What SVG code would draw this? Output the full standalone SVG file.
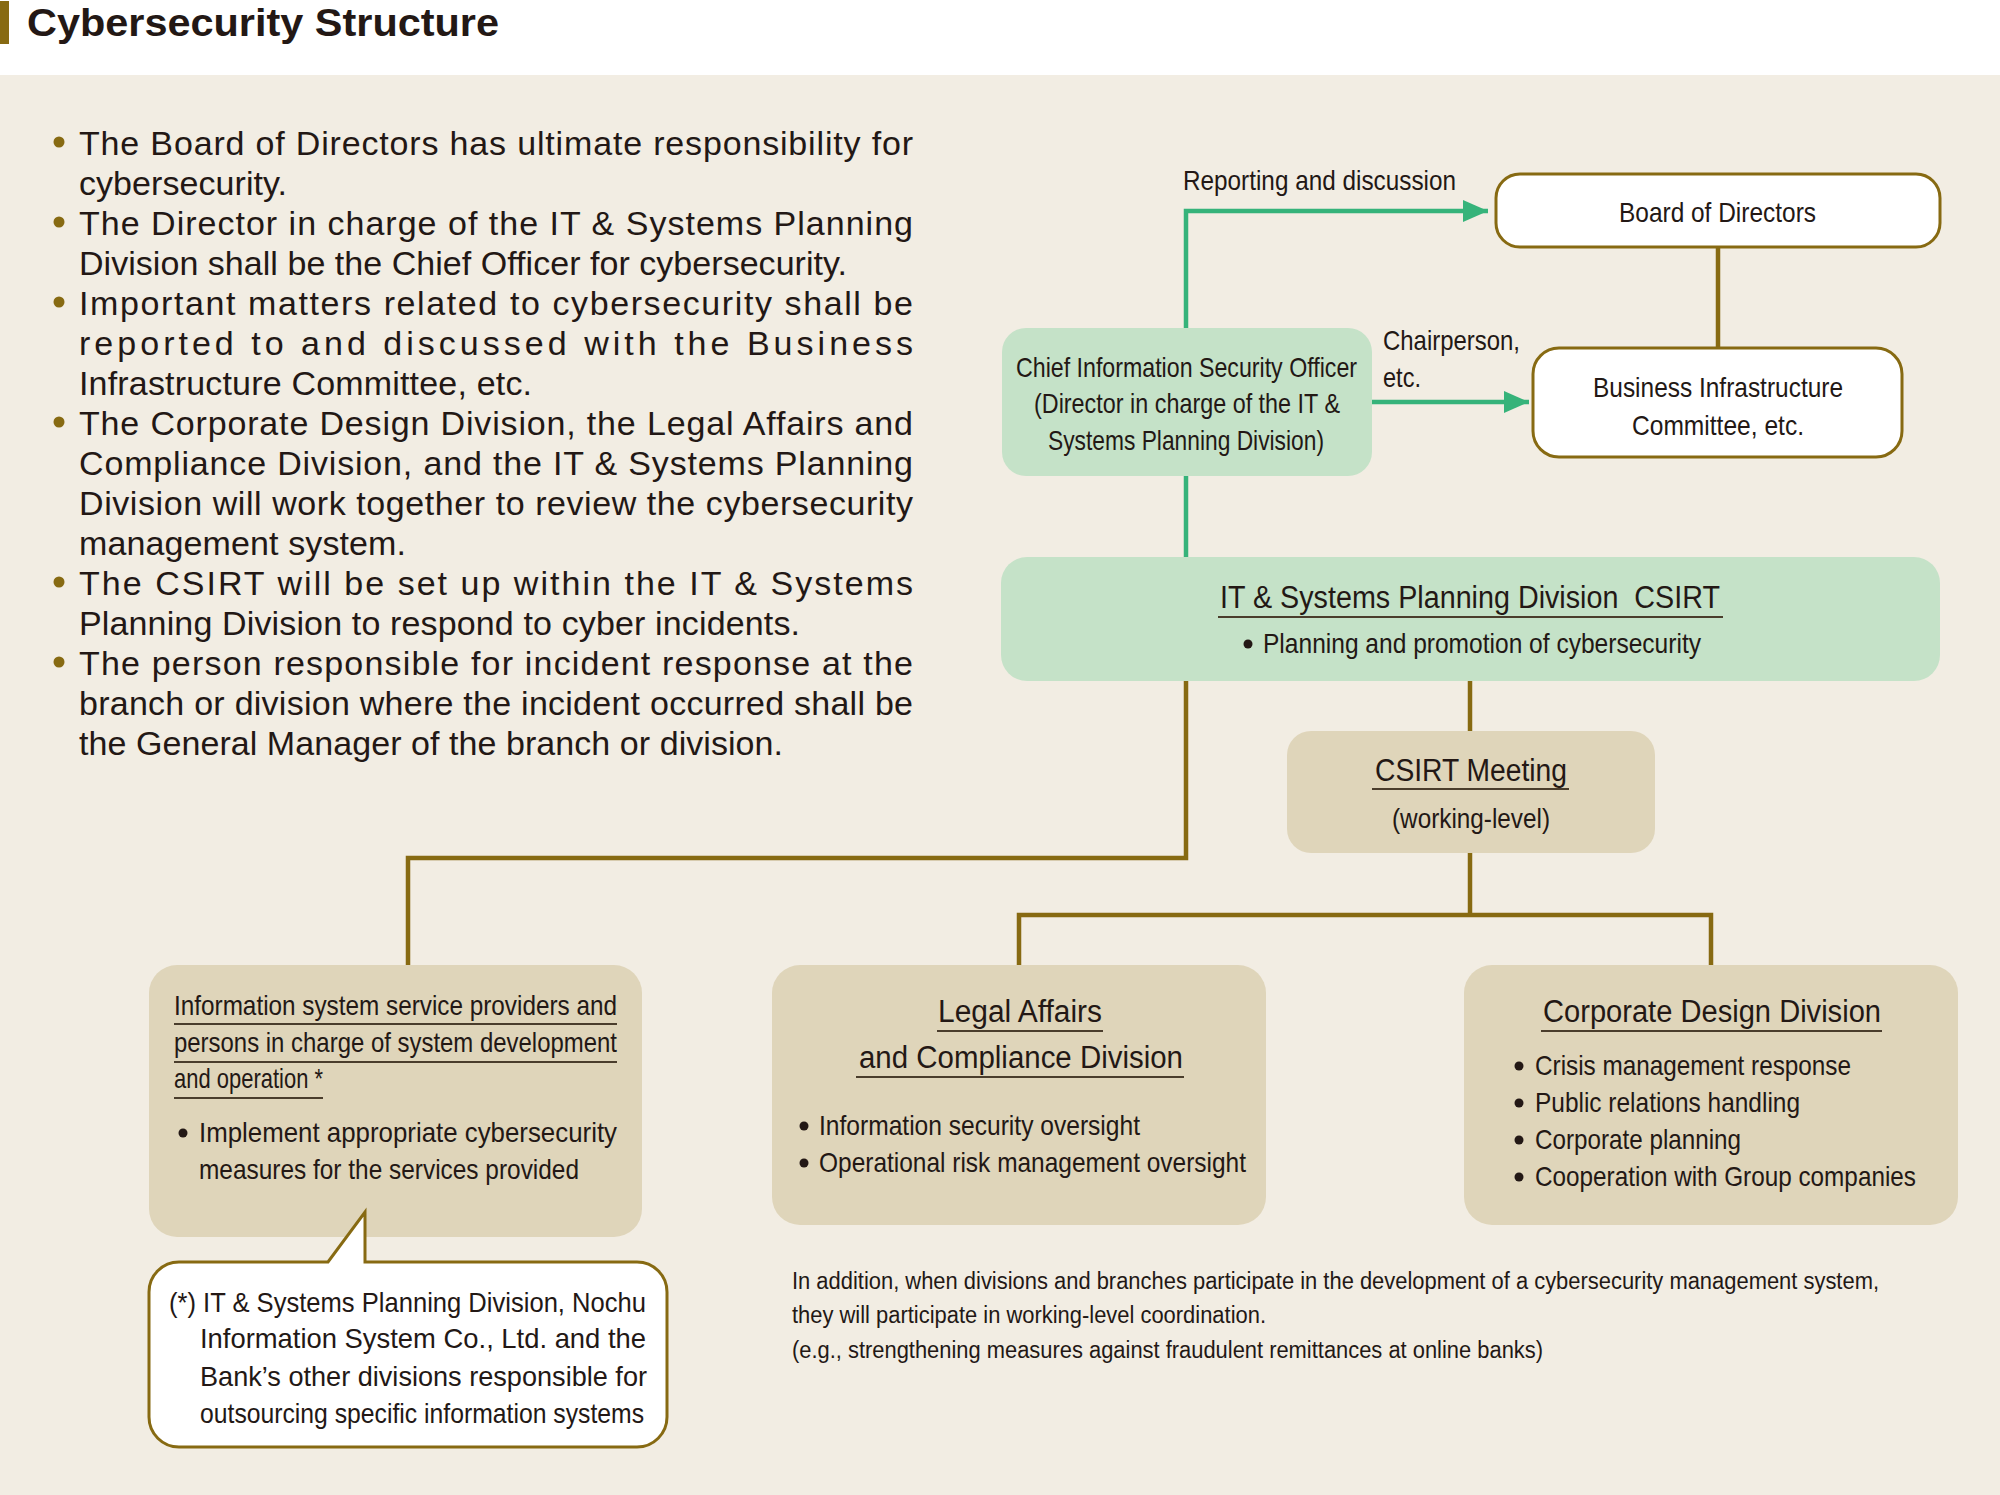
<svg xmlns="http://www.w3.org/2000/svg" width="2000" height="1495" viewBox="0 0 2000 1495">
<defs>
<marker id="gArrow" markerUnits="userSpaceOnUse" markerWidth="25" markerHeight="22" refX="25" refY="11" orient="auto">
<path d="M0,0 L25,11 L0,22 Z" fill="#36B37A"/>
</marker>
<style>
.t{font-family:"Liberation Sans",Arial,sans-serif;fill:#231815}
.body{font-size:34px}
.n{font-size:28px}
.h{font-size:31px}
.s{font-size:23px}
.bul{fill:#876A12}
.dot{fill:#231815}
.ul{stroke:#4a3d2c;stroke-width:2}
.olive{fill:none;stroke:#876A12;stroke-width:4.5}
.green{fill:none;stroke:#36B37A;stroke-width:4.5}
.white{fill:#ffffff;stroke:#876A12;stroke-width:3}
.gfill{fill:#C5E2C8}
.tfill{fill:#DFD5BA}
</style>
</defs>
<rect x="0" y="0" width="2000" height="1495" fill="#ffffff"/>
<rect x="0" y="75" width="2000" height="1420" fill="#F2EDE3"/>
<g id="title">
<rect x="0" y="1" width="9" height="43" fill="#876A12"/>
<text class="t" x="27" y="36" font-size="39" font-weight="bold" textLength="472" lengthAdjust="spacingAndGlyphs">Cybersecurity Structure</text>
</g>
<g id="bullets">
<circle class="bul" cx="59" cy="142" r="5.5"/>
<circle class="bul" cx="59" cy="222" r="5.5"/>
<circle class="bul" cx="59" cy="302" r="5.5"/>
<circle class="bul" cx="59" cy="422" r="5.5"/>
<circle class="bul" cx="59" cy="582" r="5.5"/>
<circle class="bul" cx="59" cy="662" r="5.5"/>
<text class="t body" x="79" y="155" textLength="834" lengthAdjust="spacing">The Board of Directors has ultimate responsibility for</text>
<text class="t body" x="79" y="195" textLength="208" lengthAdjust="spacing">cybersecurity.</text>
<text class="t body" x="79" y="235" textLength="834" lengthAdjust="spacing">The Director in charge of the IT &amp; Systems Planning</text>
<text class="t body" x="79" y="275" textLength="768" lengthAdjust="spacing">Division shall be the Chief Officer for cybersecurity.</text>
<text class="t body" x="79" y="315" textLength="834" lengthAdjust="spacing">Important matters related to cybersecurity shall be</text>
<text class="t body" x="79" y="355" textLength="834" lengthAdjust="spacing">reported to and discussed with the Business</text>
<text class="t body" x="79" y="395" textLength="453" lengthAdjust="spacing">Infrastructure Committee, etc.</text>
<text class="t body" x="79" y="435" textLength="834" lengthAdjust="spacing">The Corporate Design Division, the Legal Affairs and</text>
<text class="t body" x="79" y="475" textLength="834" lengthAdjust="spacing">Compliance Division, and the IT &amp; Systems Planning</text>
<text class="t body" x="79" y="515" textLength="834" lengthAdjust="spacing">Division will work together to review the cybersecurity</text>
<text class="t body" x="79" y="555" textLength="327" lengthAdjust="spacing">management system.</text>
<text class="t body" x="79" y="595" textLength="834" lengthAdjust="spacing">The CSIRT will be set up within the IT &amp; Systems</text>
<text class="t body" x="79" y="635" textLength="721" lengthAdjust="spacing">Planning Division to respond to cyber incidents.</text>
<text class="t body" x="79" y="675" textLength="834" lengthAdjust="spacing">The person responsible for incident response at the</text>
<text class="t body" x="79" y="715" textLength="834" lengthAdjust="spacing">branch or division where the incident occurred shall be</text>
<text class="t body" x="79" y="755" textLength="704" lengthAdjust="spacing">the General Manager of the branch or division.</text>
</g>
<g id="connectors">
<path class="green" d="M1186,328 V211 H1488" marker-end="url(#gArrow)"/>
<path class="green" d="M1372,402 H1529" marker-end="url(#gArrow)"/>
<path class="green" d="M1186,476 V557"/>
<path class="olive" d="M1718,248 V347"/>
<path class="olive" d="M1186,681 V858 H408 V965"/>
<path class="olive" d="M1470,681 V731"/>
<path class="olive" d="M1470,853 V915"/>
<path class="olive" d="M1019,965 V915 H1711 V965"/>
<text class="t n" x="1183" y="190" textLength="273" lengthAdjust="spacingAndGlyphs">Reporting and discussion</text>
<text class="t n"><tspan x="1383" y="350" textLength="137" lengthAdjust="spacingAndGlyphs">Chairperson,</tspan><tspan x="1383" y="387" textLength="38" lengthAdjust="spacingAndGlyphs">etc.</tspan></text>
</g>
<g id="board">
<rect class="white" x="1496" y="174" width="444" height="73" rx="24"/>
<text class="t n" x="1619" y="222" textLength="197" lengthAdjust="spacingAndGlyphs">Board of Directors</text>
</g>
<g id="bic">
<rect class="white" x="1533" y="348" width="369" height="109" rx="26"/>
<text class="t n" x="1593" y="397" textLength="250" lengthAdjust="spacingAndGlyphs">Business Infrastructure</text>
<text class="t n" x="1632" y="435" textLength="172" lengthAdjust="spacingAndGlyphs">Committee, etc.</text>
</g>
<g id="ciso">
<rect class="gfill" x="1002" y="328" width="370" height="148" rx="24"/>
<text class="t n" x="1016" y="377" textLength="341" lengthAdjust="spacingAndGlyphs">Chief Information Security Officer</text>
<text class="t n" x="1034" y="413" textLength="306" lengthAdjust="spacingAndGlyphs">(Director in charge of the IT &amp;</text>
<text class="t n" x="1048" y="450" textLength="276" lengthAdjust="spacingAndGlyphs">Systems Planning Division)</text>
</g>
<g id="csirt">
<rect class="gfill" x="1001" y="557" width="939" height="124" rx="26"/>
<text class="t h" x="1220" y="608" textLength="500" lengthAdjust="spacingAndGlyphs" xml:space="preserve">IT &amp; Systems Planning Division  CSIRT</text>
<line class="ul" x1="1218" y1="617" x2="1723" y2="617"/>
<circle class="dot" cx="1248" cy="644" r="4.5"/>
<text class="t n" x="1263" y="653" textLength="438" lengthAdjust="spacingAndGlyphs">Planning and promotion of cybersecurity</text>
</g>
<g id="meeting">
<rect class="tfill" x="1287" y="731" width="368" height="122" rx="24"/>
<text class="t h" x="1375" y="781" textLength="192" lengthAdjust="spacingAndGlyphs">CSIRT Meeting</text>
<line class="ul" x1="1372" y1="789" x2="1569" y2="789"/>
<text class="t n" x="1392" y="828" textLength="158" lengthAdjust="spacingAndGlyphs">(working-level)</text>
</g>
<g id="infosys">
<rect class="tfill" x="149" y="965" width="493" height="272" rx="28"/>
<text class="t n" x="174" y="1015" textLength="443" lengthAdjust="spacingAndGlyphs">Information system service providers and</text>
<line class="ul" x1="174" y1="1024" x2="617" y2="1024"/>
<text class="t n" x="174" y="1052" textLength="443" lengthAdjust="spacingAndGlyphs">persons in charge of system development</text>
<line class="ul" x1="174" y1="1062" x2="617" y2="1062"/>
<text class="t n" x="174" y="1088" textLength="149" lengthAdjust="spacingAndGlyphs">and operation *</text>
<line class="ul" x1="174" y1="1098" x2="323" y2="1098"/>
<circle class="dot" cx="183" cy="1133" r="4.5"/>
<text class="t n" x="199" y="1142" textLength="418" lengthAdjust="spacingAndGlyphs">Implement appropriate cybersecurity</text>
<text class="t n" x="199" y="1179" textLength="380" lengthAdjust="spacingAndGlyphs">measures for the services provided</text>
</g>
<g id="footnote">
<path d="M179,1262 H328 L365,1212 V1262 H637 A30,30 0 0 1 667,1292 V1417 A30,30 0 0 1 637,1447 H179 A30,30 0 0 1 149,1417 V1292 A30,30 0 0 1 179,1262 Z" fill="#ffffff" stroke="#876A12" stroke-width="3"/>
<text class="t n" x="169" y="1312" textLength="477" lengthAdjust="spacingAndGlyphs">(*) IT &amp; Systems Planning Division, Nochu</text>
<text class="t n" x="200" y="1348" textLength="446" lengthAdjust="spacingAndGlyphs">Information System Co., Ltd. and the</text>
<text class="t n" x="200" y="1386" textLength="447" lengthAdjust="spacingAndGlyphs">Bank’s other divisions responsible for</text>
<text class="t n" x="200" y="1423" textLength="444" lengthAdjust="spacingAndGlyphs">outsourcing specific information systems</text>
</g>
<g id="legal">
<rect class="tfill" x="772" y="965" width="494" height="260" rx="28"/>
<text class="t h" x="938" y="1022" textLength="164" lengthAdjust="spacingAndGlyphs">Legal Affairs</text>
<line class="ul" x1="937" y1="1031" x2="1103" y2="1031"/>
<text class="t h" x="859" y="1068" textLength="324" lengthAdjust="spacingAndGlyphs">and Compliance Division</text>
<line class="ul" x1="856" y1="1077" x2="1184" y2="1077"/>
<circle class="dot" cx="804" cy="1126" r="4.5"/>
<text class="t n" x="819" y="1135" textLength="321" lengthAdjust="spacingAndGlyphs">Information security oversight</text>
<circle class="dot" cx="804" cy="1163" r="4.5"/>
<text class="t n" x="819" y="1172" textLength="427" lengthAdjust="spacingAndGlyphs">Operational risk management oversight</text>
</g>
<g id="corporate">
<rect class="tfill" x="1464" y="965" width="494" height="260" rx="28"/>
<text class="t h" x="1543" y="1022" textLength="338" lengthAdjust="spacingAndGlyphs">Corporate Design Division</text>
<line class="ul" x1="1541" y1="1031" x2="1882" y2="1031"/>
<circle class="dot" cx="1519" cy="1066" r="4.5"/>
<text class="t n" x="1535" y="1075" textLength="316" lengthAdjust="spacingAndGlyphs">Crisis management response</text>
<circle class="dot" cx="1519" cy="1103" r="4.5"/>
<text class="t n" x="1535" y="1112" textLength="265" lengthAdjust="spacingAndGlyphs">Public relations handling</text>
<circle class="dot" cx="1519" cy="1140" r="4.5"/>
<text class="t n" x="1535" y="1149" textLength="206" lengthAdjust="spacingAndGlyphs">Corporate planning</text>
<circle class="dot" cx="1519" cy="1177" r="4.5"/>
<text class="t n" x="1535" y="1186" textLength="381" lengthAdjust="spacingAndGlyphs">Cooperation with Group companies</text>
</g>
<g id="notes">
<text class="t s" x="792" y="1289" textLength="1087" lengthAdjust="spacingAndGlyphs">In addition, when divisions and branches participate in the development of a cybersecurity management system,</text>
<text class="t s" x="792" y="1323" textLength="474" lengthAdjust="spacingAndGlyphs">they will participate in working-level coordination.</text>
<text class="t s" x="792" y="1358" textLength="751" lengthAdjust="spacingAndGlyphs">(e.g., strengthening measures against fraudulent remittances at online banks)</text>
</g>
</svg>
